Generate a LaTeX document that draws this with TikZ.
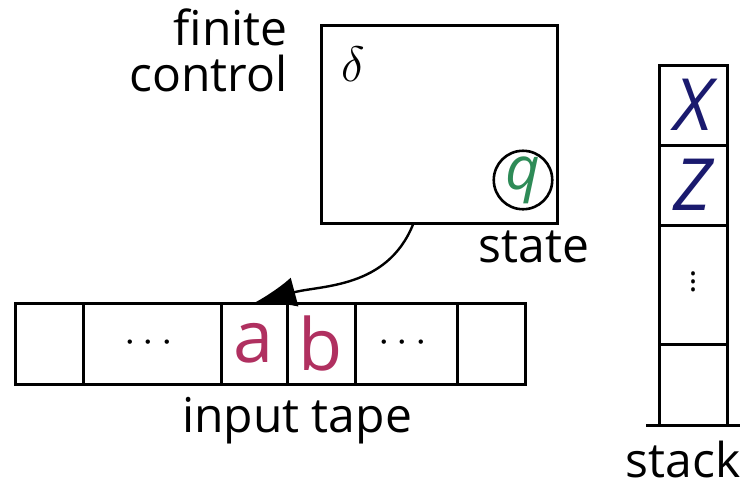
\documentclass[tikz,border=0pt]{standalone}
\usepackage{fontspec}
\setmainfont{Open Sans}
\usepackage{amsmath}
\usetikzlibrary{arrows.meta,positioning,calc}
\definecolor{symred}{RGB}{176,48,96}
\definecolor{stgreen}{RGB}{46,139,87}
\definecolor{stknavy}{RGB}{26,26,110}

\begin{document}
\begin{tikzpicture}[x=0.5pt,y=-0.5pt,
  cell/.style={draw,line width=1.5pt,minimum height=40.5pt,inner sep=0pt,outer sep=0pt},
  scell/.style={draw,line width=1.5pt,minimum width=34pt,inner sep=0pt,outer sep=0pt},
  lab/.style={font=\fontsize{24}{24}\selectfont,inner sep=0pt},
  sym/.style={font=\fontsize{36}{36}\selectfont,inner sep=0pt},
  ar/.style={-{Latex[length=21pt,width=15pt]},line width=1.2pt}]
\useasboundingbox (0,0) rectangle (743,487);
% finite control
\node[draw,line width=1.5pt,minimum width=118pt,minimum height=99pt,inner sep=0pt] (ctrl) at (439,124) {};
\node[inner sep=0pt] (delta) at (353,64) {\fontsize{34}{34}\selectfont$\delta$};
\node[draw,circle,line width=1.3pt,minimum size=28.5pt,inner sep=0pt,text=stgreen] (q) at (523,180)
  {\fontsize{30}{30}\selectfont\itshape q};
\node[lab,align=right,anchor=east] (fc) at (288,50) {finite\\[-1pt]control};
\node[lab] (st) at (534,247) {state};
% input tape
\node[cell,minimum width=34pt] (c1) at (49,343.5) {};
\node[cell,minimum width=69pt] (c2) at (152,343.5) {\fontsize{20}{20}\selectfont$\cdots$};
\node[cell,minimum width=33pt,sym,text=symred] (c3) at (254,343.5) {a};
\node[cell,minimum width=34pt,sym,text=symred] (c4) at (321,343.5) {b};
\node[cell,minimum width=51pt] (c5) at (406,343.5) {\fontsize{20}{20}\selectfont$\cdots$};
\node[cell,minimum width=34pt] (c6) at (491,343.5) {};
\node[lab] (tp) at (297,421) {input tape};
\draw[ar] ([xshift=-13pt]ctrl.south) to[out=248,in=15] (c3.north);
% stack
\node[scell,minimum height=40pt,sym,text=stknavy] (s1) at (693,105) {\itshape X};
\node[scell,minimum height=40pt,sym,text=stknavy] (s2) at (693,185) {\itshape Z};
\node[scell,minimum height=59.5pt] (s3) at (693,284.5) {};
\node[inner sep=0pt] (vd) at (693,276) {\fontsize{16}{16}\selectfont$\vdots$};
\node[scell,minimum height=40.5pt] (s4) at (693,384.5) {};
\draw[line width=1.5pt] ($(s4.south west)+(-13,0)$) -- ($(s4.south east)+(13,0)$);
\node[lab] (sk) at (683,459) {stack};
\end{tikzpicture}
\end{document}
